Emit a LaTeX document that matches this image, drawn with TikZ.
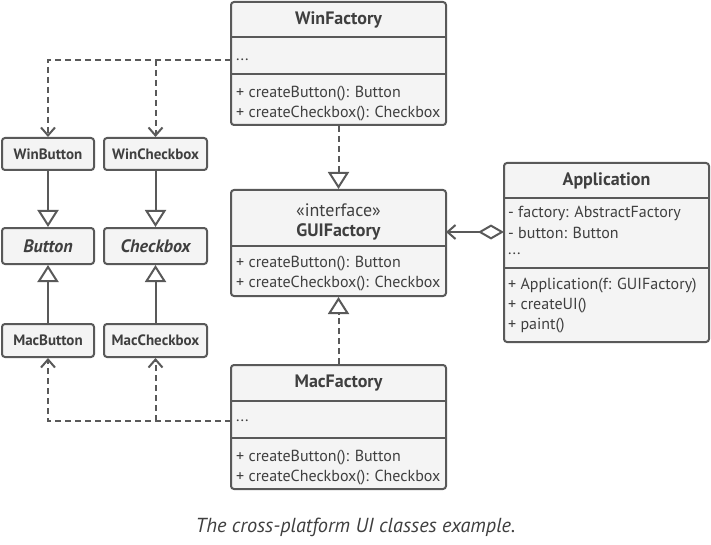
\documentclass[tikz,border=0pt]{standalone}
\usepackage{fontspec}
\setmainfont{PT Sans}
\newfontfamily\capfont{PT Sans}
\usetikzlibrary{arrows.meta}
\definecolor{lc}{HTML}{595959}
\definecolor{bg}{HTML}{F4F4F4}
\definecolor{tc}{HTML}{3F3F3F}
\begin{document}
\begin{tikzpicture}[x=1pt,y=-1pt,
  box/.style={draw=lc, fill=bg, line width=2pt, rounded corners=3pt, inner sep=0pt},
  div/.style={draw=lc, line width=2pt},
  ttl/.style={text=tc, font=\fontsize{18}{20}\selectfont\bfseries},
  stl/.style={text=tc, font=\fontsize{15}{17}\selectfont\bfseries},
  itl/.style={text=tc, font=\fontsize{18}{20}\selectfont\bfseries\itshape},
  mem/.style={text=tc, anchor=west, inner sep=0pt, font=\fontsize{16}{18}\selectfont},
  dep/.style={draw=lc, line width=2pt, dash pattern=on 6pt off 4pt},
  inh/.style={draw=lc, line width=2pt},
  tri/.style={-{Triangle[open, length=17pt, width=21pt, line width=2pt]}},
  barb/.style={-{Straight Barb[length=8pt, width=14pt, line width=2pt]}}
]
\useasboundingbox (0,0) rectangle (711,545);

% WinFactory
\node[box, minimum width=215, minimum height=123] (win) at (338.5,63.5) {};
\draw[div] (231,37) -- (446,37);
\draw[div] (231,74) -- (446,74);
\node[ttl] (wint) at (338.5,19.5) {WinFactory};
\node[mem] (wina) at (236,60) {...};
\node[mem] (winm1) at (236,94) {+ createButton(): Button};
\node[mem] (winm2) at (236,114) {+ createCheckbox(): Checkbox};

% GUIFactory
\node[box, minimum width=215, minimum height=106] (gui) at (338.5,243) {};
\draw[div] (231,246) -- (446,246);
\node[text=tc, font=\fontsize{18}{20}\selectfont] (guis) at (338.5,210) {«interface»};
\node[ttl] (guit) at (338.5,232) {GUIFactory};
\node[mem] (guim1) at (236,264) {+ createButton(): Button};
\node[mem] (guim2) at (236,284) {+ createCheckbox(): Checkbox};

% MacFactory
\node[box, minimum width=215, minimum height=124] (mac) at (338.5,427) {};
\draw[div] (231,401) -- (446,401);
\draw[div] (231,438) -- (446,438);
\node[ttl] (mact) at (338.5,383) {MacFactory};
\node[mem] (maca) at (236,421) {...};
\node[mem] (macm1) at (236,458) {+ createButton(): Button};
\node[mem] (macm2) at (236,478) {+ createCheckbox(): Checkbox};

% Application
\node[box, minimum width=205, minimum height=179] (app) at (606.5,252.5) {};
\draw[div] (504,198) -- (709,198);
\draw[div] (504,268) -- (709,268);
\node[ttl] (appt) at (606.5,180.5) {Application};
\node[mem] (appa1) at (508,213) {- factory: AbstractFactory};
\node[mem] (appa2) at (508,233) {- button: Button};
\node[mem] (appa3) at (508,254) {...};
\node[mem] (appm1) at (508,286) {+ Application(f: GUIFactory)};
\node[mem] (appm2) at (508,306) {+ createUI()};
\node[mem] (appm3) at (508,326) {+ paint()};

% small classes
\node[box, minimum width=92, minimum height=32] (wbtn) at (48,154) {};
\node[stl] at (48,154) {WinButton};
\node[box, minimum width=103, minimum height=32] (wchk) at (155.5,154) {};
\node[stl] at (155.5,154) {WinCheckbox};
\node[box, minimum width=92, minimum height=36] (btn) at (48,246) {};
\node[itl] at (48,246) {Button};
\node[box, minimum width=103, minimum height=36] (chk) at (155.5,246) {};
\node[itl] at (155.5,246) {Checkbox};
\node[box, minimum width=92, minimum height=33] (mbtn) at (48,340.5) {};
\node[stl] at (48,340.5) {MacButton};
\node[box, minimum width=103, minimum height=33] (mchk) at (155.5,340.5) {};
\node[stl] at (155.5,340.5) {MacCheckbox};

% inheritance
\draw[inh, tri] (wbtn.south) -- (btn.north);
\draw[inh, tri] (wchk.south) -- (chk.north);
\draw[inh, tri] (mbtn.north) -- (btn.south);
\draw[inh, tri] (mchk.north) -- (chk.south);

% realization
\draw[dep, tri] (win.south) -- (gui.north);
\draw[dep, tri] (mac.north) -- (gui.south);

% dependencies
\coordinate (wa) at (231,60);
\coordinate (wj) at (155.5,60);
\draw[dep, barb] (wa) -| (wbtn.north);
\draw[dep, barb] (wj) -- (wchk.north);
\coordinate (ma) at (231,421);
\coordinate (mj) at (155.5,421);
\draw[dep, barb] (ma) -| (mbtn.south);
\draw[dep, barb] (mj) -- (mchk.south);

% aggregation
\coordinate (appw) at (504,232);
\coordinate (guie) at (446,232);
\draw[inh, {Diamond[open, length=26pt, width=15pt, line width=2pt]}-{Straight Barb[length=8pt, width=14pt, line width=2pt]}] (appw) -- (guie);

% caption
\node[text=tc, font=\capfont\fontsize{20.3}{22}\selectfont\itshape] (cap) at (355.5,527) {The cross-platform UI classes example.};
\end{tikzpicture}
\end{document}
